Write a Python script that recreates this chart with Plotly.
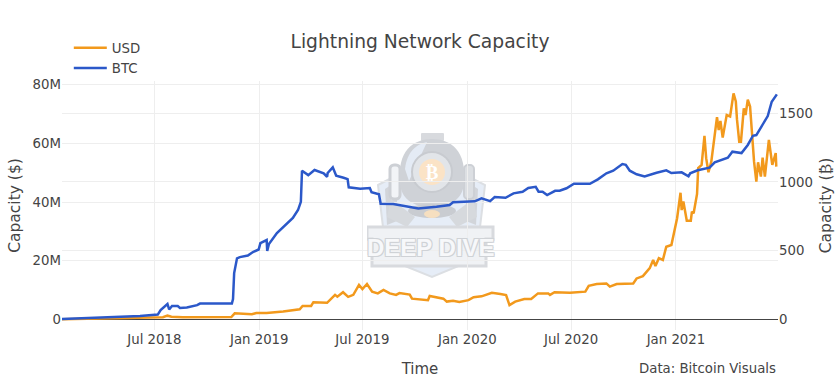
import base64
import plotly.graph_objects as go

TITLE = "Lightning Network Capacity"
SOURCE = "Data: Bitcoin Visuals"
USD_NAME = "USD"
BTC_NAME = "BTC"

btc_dates = ["2018-01-20","2018-06-06","2018-07-07","2018-07-12","2018-07-24","2018-07-27","2018-08-01","2018-08-11","2018-08-15","2018-08-27","2018-09-14","2018-09-19","2018-11-14","2018-11-16","2018-11-18","2018-11-23","2018-11-28","2018-12-12","2018-12-21","2018-12-31","2019-01-03","2019-01-14","2019-01-15","2019-01-18","2019-02-01","2019-02-15","2019-03-01","2019-03-10","2019-03-15","2019-03-17","2019-03-28","2019-04-08","2019-04-24","2019-04-30","2019-05-01","2019-05-10","2019-05-16","2019-05-29","2019-06-05","2019-06-07","2019-06-27","2019-07-14","2019-07-17","2019-07-30","2019-08-02","2019-08-24","2019-10-07","2019-11-08","2019-12-01","2019-12-07","2020-01-14","2020-01-26","2020-02-10","2020-02-18","2020-03-08","2020-03-22","2020-04-07","2020-04-17","2020-04-30","2020-05-05","2020-05-12","2020-05-20","2020-06-03","2020-06-11","2020-06-23","2020-07-06","2020-08-03","2020-08-17","2020-09-01","2020-09-13","2020-09-29","2020-10-05","2020-10-12","2020-10-24","2020-11-07","2020-11-28","2020-12-15","2020-12-24","2021-01-11","2021-01-23","2021-01-26","2021-02-08","2021-03-01","2021-03-10","2021-04-02","2021-04-10","2021-04-26","2021-05-07","2021-05-16","2021-05-22","2021-06-11","2021-06-18","2021-06-27"]
btc_values = [4,25,36,69,113,73,98,98,84,87,105,116,116,149,338,445,454,465,491,509,556,578,498,549,629,682,738,796,856,1082,1050,1087,1063,1038,1065,1106,1045,1031,1021,961,951,956,925,910,842,840,808,820,832,852,859,881,861,890,885,917,929,956,965,929,929,905,936,936,954,987,987,1019,1063,1082,1130,1125,1082,1056,1041,1067,1085,1065,1070,1041,1063,1085,1104,1143,1176,1220,1210,1269,1336,1341,1479,1583,1637]

usd_dates = ["2018-01-20","2018-07-07","2018-07-16","2018-07-24","2018-07-31","2018-08-20","2018-11-13","2018-11-19","2018-12-04","2018-12-19","2018-12-27","2019-01-14","2019-02-12","2019-03-13","2019-03-18","2019-04-02","2019-04-06","2019-04-30","2019-05-14","2019-05-18","2019-05-28","2019-06-06","2019-06-15","2019-06-25","2019-07-01","2019-07-09","2019-07-18","2019-07-28","2019-08-07","2019-08-18","2019-08-29","2019-09-04","2019-09-22","2019-09-26","2019-10-24","2019-10-27","2019-11-20","2019-11-26","2019-12-07","2019-12-18","2020-01-03","2020-01-12","2020-01-26","2020-02-13","2020-02-28","2020-03-09","2020-03-15","2020-03-25","2020-04-10","2020-04-22","2020-05-04","2020-05-22","2020-05-25","2020-06-02","2020-06-29","2020-07-26","2020-08-01","2020-08-15","2020-09-01","2020-09-07","2020-09-19","2020-10-18","2020-10-24","2020-11-04","2020-11-16","2020-11-22","2020-11-26","2020-12-02","2020-12-09","2020-12-15","2020-12-24","2020-12-30","2021-01-03","2021-01-09","2021-01-11","2021-01-14","2021-01-20","2021-01-27","2021-01-29","2021-02-01","2021-02-06","2021-02-07","2021-02-09","2021-02-15","2021-02-20","2021-02-23","2021-02-27","2021-03-04","2021-03-14","2021-03-17","2021-03-20","2021-03-24","2021-03-31","2021-04-06","2021-04-12","2021-04-16","2021-04-18","2021-04-22","2021-04-25","2021-04-30","2021-05-03","2021-05-07","2021-05-11","2021-05-15","2021-05-18","2021-05-22","2021-05-25","2021-05-30","2021-06-02","2021-06-06","2021-06-09","2021-06-13","2021-06-19","2021-06-25","2021-06-26"]
usd_millions = [0.05,0.5,0.75,1.3,0.95,0.75,0.85,2.1,1.9,1.8,2.2,2.2,2.7,3.5,4.6,4.6,5.9,5.7,8.4,7.8,9.3,7.7,8.4,11.8,10.4,12.1,9.5,8.9,10.1,8.9,8.4,9.0,8.5,7.1,6.6,8.0,7.1,6.1,6.4,6.0,6.6,7.6,7.9,9.1,8.7,8.3,4.9,6.1,7.0,7.0,8.9,8.9,8.4,9.3,9.1,9.5,11.5,12.1,12.3,11.2,12.1,12.3,14.0,14.8,17.5,20.3,18.2,20.9,20.3,24.8,25.4,31.1,34.5,43.2,37.3,40.2,33.7,33.7,36.8,36.2,42.5,42.8,51.6,52.7,62.6,55.0,50.2,53.8,69.0,64.6,67.7,62.0,69.7,69.2,77.1,74.3,68.3,60.6,60.6,72.0,69.7,74.9,72.6,60.6,53.8,47.0,53.6,48.7,55.2,48.7,54.4,61.2,52.7,56.7,52.1]

x_ticks = ["2018-07-01","2019-01-01","2019-07-01","2020-01-01","2020-07-01","2021-01-01"]
x_labels = ["Jul 2018","Jan 2019","Jul 2019","Jan 2020","Jul 2020","Jan 2021"]
usd_ticks = [0, 20e6, 40e6, 60e6, 80e6]
usd_labels = ["0","20M","40M","60M","80M"]
btc_ticks = [0, 500, 1000, 1500]

FONT = "DejaVu Sans"
TEXT = "#444444"
GRID = "#eeeeee"

svg = """<svg xmlns='http://www.w3.org/2000/svg' viewBox='0 0 128 147' width='128' height='147'>
<polygon points='11,52 36,39 93,39 118,52 113,94 106,127 65,144 23,127 16,94' fill='#e6edf7' stroke='#dcdfe3' stroke-width='2'/>
<polygon points='18,56 30,48 30,88 20,92' fill='#d2d5da'/>
<polygon points='111,56 99,48 99,88 109,92' fill='#d2d5da'/>
<rect x='23' y='32' width='10' height='34' rx='4' fill='#f2f4f7' stroke='#cdd0d5' stroke-width='3'/>
<rect x='97' y='32' width='10' height='34' rx='4' fill='#dcdfe3' stroke='#cdd0d5' stroke-width='2'/>
<rect x='54' y='0' width='23' height='8' rx='1' fill='#d8dade'/>
<path d='M33,50 C30,18 46,6 65,6 C84,6 100,18 97,50 C96,62 90,72 65,76 C40,72 34,62 33,50 Z' fill='#cfd2d7'/>
<path d='M38,36 C40,18 50,11 60,9 L42,48 Z' fill='#e4ebf5'/>
<circle cx='65' cy='39' r='20' fill='#e2e5e9' stroke='#c8cbd0' stroke-width='2'/>
<circle cx='65' cy='39' r='13' fill='#fbe3c6'/>
<text x='65' y='46' font-family='DejaVu Sans' font-weight='bold' font-size='19' text-anchor='middle' fill='#ffffff'>&#8383;</text>
<ellipse cx='65' cy='78' rx='24' ry='7' fill='#c9ccd1'/>
<ellipse cx='65' cy='81' rx='8' ry='4' fill='#f6dfc0'/>
<path d='M24,66 L48,84 L40,94 L20,84 Z' fill='#d6d9dd'/>
<path d='M106,66 L82,84 L90,94 L110,84 Z' fill='#d6d9dd'/>
<polygon points='0,94 126,94 126,106 119,106 119,133 5,133 5,106 0,106' fill='#f0f2f5' stroke='#d8dade' stroke-width='3'/>
</svg>"""
logo = "data:image/svg+xml;base64," + base64.b64encode(svg.encode()).decode()

fig = go.Figure()
fig.add_trace(go.Scatter(x=usd_dates, y=[v * 1e6 for v in usd_millions], name=USD_NAME, mode="lines",
                         line=dict(color="#f2991c", width=2.5), yaxis="y"))
fig.add_trace(go.Scatter(x=btc_dates, y=btc_values, name=BTC_NAME, mode="lines",
                         line=dict(color="#2b58c9", width=2.5), yaxis="y2"))

fig.update_layout(
    width=836, height=392, autosize=False,
    margin=dict(l=62, r=58, t=81, b=62, pad=0),
    template=None,
    paper_bgcolor="white", plot_bgcolor="rgba(0,0,0,0)",
    font=dict(family=FONT, size=13, color=TEXT),
    title=dict(text=TITLE, x=0.5, xanchor="center", xref="paper", y=0.893, yanchor="middle",
               font=dict(size=18.7, family=FONT, color=TEXT)),
    legend=dict(x=0.0095, y=1.1944, xanchor="left", yanchor="top", bgcolor="rgba(0,0,0,0)", itemwidth=33,
                font=dict(size=13.3, family=FONT, color=TEXT), tracegroupgap=0),
    xaxis=dict(type="date", range=["2018-01-20", "2021-06-29"], tickvals=x_ticks, ticktext=x_labels,
               showgrid=True, gridcolor=GRID, gridwidth=1, zeroline=False, showline=False,
               title=dict(text="Time", font=dict(size=15, family=FONT, color=TEXT), standoff=17),
               tickfont=dict(size=13.3, family=FONT, color=TEXT)),
    yaxis=dict(range=[-3.58e6, 81.3e6], tickvals=usd_ticks, ticktext=usd_labels,
               showgrid=True, gridcolor=GRID, gridwidth=1, zeroline=True, zerolinecolor=TEXT, zerolinewidth=1,
               title=dict(text="Capacity ($)", font=dict(size=15.5, family=FONT, color=TEXT), standoff=8),
               tickfont=dict(size=13.3, family=FONT, color=TEXT)),
    yaxis2=dict(range=[-76, 1734], tickvals=btc_ticks, overlaying="y", side="right",
                showgrid=True, gridcolor=GRID, gridwidth=1, zeroline=True, zerolinecolor=TEXT, zerolinewidth=1,
                title=dict(text="Capacity (₿)", font=dict(size=15.5, family=FONT, color=TEXT), standoff=8),
                tickfont=dict(size=13.3, family=FONT, color=TEXT)),
    images=[dict(source=logo, xref="paper", yref="paper", x=(367 - 62) / 716, y=(330 - 133) / 249,
                 sizex=128 / 716, sizey=147 / 249, xanchor="left", yanchor="top",
                 sizing="stretch", layer="below", opacity=1)],
    annotations=[
        dict(text=SOURCE, xref="paper", yref="paper", x=1, y=-0.116, xanchor="right", yanchor="top",
             showarrow=False, font=dict(size=13.3, family=FONT, color=TEXT)),
        dict(text="<b>DEEP DIVE</b>", xref="paper", yref="paper", x=(431 - 62) / 716, y=(330 - 247) / 249,
             xanchor="center", yanchor="middle", showarrow=False,
             font=dict(size=24, family="Liberation Sans", color="#f7f8fa",
                       shadow="1px 1px 0 #cfd2d6, -1px -1px 0 #cfd2d6, 1px -1px 0 #cfd2d6, -1px 1px 0 #cfd2d6")),
    ],
)
fig.write_html("out.html", post_script="document.body.style.margin='0';", config=dict(displayModeBar=False))
